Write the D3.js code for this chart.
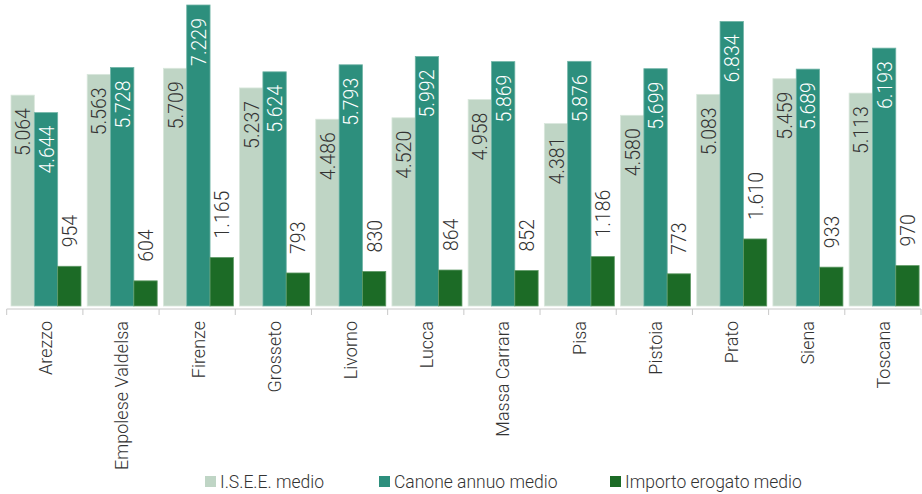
<!DOCTYPE html>
<html>
<head>
<meta charset="utf-8">
<script src="https://cdn.jsdelivr.net/npm/d3@7"></script>
<style>
  html, body { margin: 0; padding: 0; background: #fff; }
  svg { display: block; font-family: Roboto, "Liberation Sans", sans-serif; font-weight: 300; }
</style>
</head>
<body>
<svg id="chart" width="922" height="494"></svg>
<script>
// Province / area names
const categories = ["Arezzo", "Empolese Valdelsa", "Firenze", "Grosseto", "Livorno", "Lucca",
  "Massa Carrara", "Pisa", "Pistoia", "Prato", "Siena", "Toscana"];

// Series names and values (euro)
const seriesNames = ["I.S.E.E. medio", "Canone annuo medio", "Importo erogato medio"];
const iseeMedio = [5064, 5563, 5709, 5237, 4486, 4520, 4958, 4381, 4580, 5083, 5459, 5113];
const canoneMedio = [4644, 5728, 7229, 5624, 5793, 5992, 5869, 5876, 5699, 6834, 5689, 6193];
const importoMedio = [954, 604, 1165, 793, 830, 864, 852, 1186, 773, 1610, 933, 970];

const colors = ["#bfd5c5", "#2d8f7d", "#1c6b26"];
const strokes = ["#d9e7dc", "#6fb3a5", "#5f9a66"];
const labelColors = ["#333333", "#ffffff", "#333333"];

const seriesValues = [iseeMedio, canoneMedio, importoMedio];
const fmt = v => d3.format(",")(v).replace(/,/g, ".");

const svg = d3.select("#chart");
const baseY = 306;

const x0 = d3.scaleBand().domain(categories).range([6.7, 921]).paddingInner(0).paddingOuter(0);
const x1 = d3.scaleBand().domain(d3.range(3)).range([4.3, 74.3]).padding(0);
const y = d3.scaleLinear().domain([0, 7229]).range([baseY, 5]);

const groups = svg.append("g").selectAll("g")
  .data(categories)
  .join("g")
  .attr("transform", d => `translate(${x0(d)},0)`);

groups.each(function(cat, ci) {
  const g = d3.select(this);
  seriesValues.forEach((vals, si) => {
    const v = vals[ci];
    const bx = x1(si), bw = x1.bandwidth();
    g.append("rect")
      .attr("x", bx).attr("y", y(v))
      .attr("width", bw).attr("height", baseY - y(v))
      .attr("fill", colors[si])
      .attr("stroke", strokes[si]).attr("stroke-width", 0.8);
    const cx = bx + bw / 2 + 1;
    const inside = si < 2;
    const ly = inside ? y(v) + 13 : y(v) - 19;
    g.append("text")
      .attr("transform", `translate(${cx},${ly}) rotate(-90)`)
      .attr("text-anchor", inside ? "end" : "start")
      .attr("dominant-baseline", "central")
      .attr("fill", labelColors[si])
      .attr("font-size", 19.5)
      .text(fmt(v));
  });
});

// Category axis with boundary ticks
const axisG = svg.append("g").attr("transform", `translate(0,309)`);
axisG.append("line")
  .attr("x1", 6.7).attr("x2", 921).attr("y1", 0).attr("y2", 0)
  .attr("stroke", "#c8c8c8").attr("stroke-width", 1);
const bounds = categories.map(c => x0(c)).concat([x0.range()[1]]);
axisG.selectAll("line.tick").data(bounds).join("line")
  .attr("class", "tick")
  .attr("x1", d => d).attr("x2", d => d)
  .attr("y1", 0).attr("y2", 6)
  .attr("stroke", "#c8c8c8").attr("stroke-width", 1);

axisG.selectAll("text.cat").data(categories).join("text")
  .attr("class", "cat")
  .attr("transform", d => `translate(${x0(d) + x0.bandwidth() / 2 + 1},12) rotate(-90)`)
  .attr("text-anchor", "end")
  .attr("dominant-baseline", "central")
  .attr("fill", "#333333")
  .attr("font-size", 18)
  .text(d => d);

// Legend
const legendX = [205, 379, 610];
const legend = svg.append("g").selectAll("g").data(seriesNames).join("g")
  .attr("transform", (d, i) => `translate(${legendX[i]},476)`);
legend.append("rect")
  .attr("width", 11).attr("height", 11)
  .attr("fill", (d, i) => colors[i]);
legend.append("text")
  .attr("x", 15).attr("y", 6)
  .attr("dominant-baseline", "central")
  .attr("fill", "#333333")
  .attr("font-size", 17.5)
  .text(d => d);
</script>
</body>
</html>
